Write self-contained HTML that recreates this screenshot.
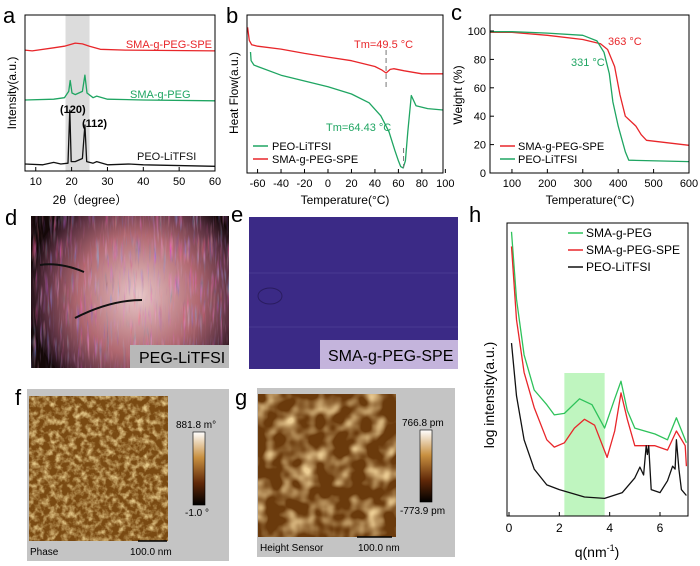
<!DOCTYPE html>
<html><head><meta charset="utf-8">
<style>
body{margin:0;background:#fff;}
svg{display:block;font-family:"Liberation Sans",Arial,sans-serif;}
</style></head>
<body>
<svg id="fig" width="700" height="566" viewBox="0 0 700 566" xmlns="http://www.w3.org/2000/svg">
<defs>
<clipPath id="clipD"><rect x="31" y="216" width="198" height="152"/></clipPath>
<filter id="noiseF" x="0" y="0" width="100%" height="100%">
<feTurbulence type="fractalNoise" baseFrequency="0.16" numOctaves="3" seed="3"/>
<feColorMatrix type="matrix" values="0 0 0 0 0.78  0 0 0 0 0.58  0 0 0 0 0.25  0 0 0 2.2 -0.85"/>
</filter>
<filter id="noiseG" x="0" y="0" width="100%" height="100%">
<feTurbulence type="fractalNoise" baseFrequency="0.06" numOctaves="2" seed="8"/>
<feColorMatrix type="matrix" values="0 0 0 0 0.85  0 0 0 0 0.62  0 0 0 0 0.3  0 0 0 2.4 -1.0"/>
</filter>
<filter id="fibre" x="0" y="0" width="100%" height="100%">
<feTurbulence type="turbulence" baseFrequency="0.3 0.03" numOctaves="2" seed="5"/>
<feColorMatrix type="matrix" values="1.6 0 0 0 0.1  0 0.7 0 0 0.05  0 0.6 1.2 0 0.05  0 0 0 1.6 -0.3"/>
</filter>
<radialGradient id="sph" cx="0.5" cy="0.5" r="0.5">
<stop offset="0" stop-color="#e8c8c8"/><stop offset="0.55" stop-color="#b06870"/><stop offset="0.85" stop-color="#5a3040"/><stop offset="1" stop-color="#1a0c10"/>
</radialGradient>
<linearGradient id="cbar" x1="0" y1="0" x2="0" y2="1">
<stop offset="0" stop-color="#ffffff"/><stop offset="0.35" stop-color="#c89040"/><stop offset="0.7" stop-color="#602808"/><stop offset="1" stop-color="#000"/>
</linearGradient>
</defs>

<text x="3" y="23" font-size="22">a</text>
<text x="226" y="23" font-size="22">b</text>
<text x="451" y="20" font-size="22">c</text>
<text x="5" y="225" font-size="22">d</text>
<text x="231" y="222" font-size="22">e</text>
<text x="15" y="405" font-size="22">f</text>
<text x="235" y="405" font-size="22">g</text>
<text x="469" y="222" font-size="22">h</text>

<g>
<g clip-path="url(#clipD)">
<rect x="31" y="216" width="198" height="152" fill="#140808"/>
<circle cx="138" cy="295" r="110" fill="url(#sph)"/>
<circle cx="138" cy="295" r="108" filter="url(#fibre)" opacity="0.65"/>
<path d="M75,318 Q110,300 142,300" stroke="#111" stroke-width="2" fill="none"/>
<path d="M40,265 Q60,262 84,272" stroke="#111" stroke-width="2" fill="none"/>
</g>
<rect x="130" y="345" width="99" height="23" fill="#b8b8b8"/>
<text x="139" y="363" font-size="16">PEG-LiTFSI</text>
</g>
<g>
<rect x="249" y="217" width="209" height="152" fill="#3b2a86"/>
<line x1="249" y1="273" x2="458" y2="273" stroke="#5a4aa0" stroke-width="0.6"/>
<line x1="249" y1="327" x2="458" y2="327" stroke="#5a4aa0" stroke-width="0.6"/>
<ellipse cx="270" cy="296" rx="12" ry="8" fill="none" stroke="#2a1c60" stroke-width="1"/>
<rect x="320" y="340" width="138" height="29" fill="#c4b4dc"/>
<text x="328" y="361" font-size="16">SMA-g-PEG-SPE</text>
</g>
<g>
<rect x="27" y="389" width="202" height="172" fill="#c4c4c4"/>
<rect x="29" y="396" width="139" height="145" fill="#7a4a12"/>
<rect x="29" y="396" width="139" height="145" filter="url(#noiseF)"/>
<rect x="193" y="432" width="12" height="73" fill="url(#cbar)" stroke="#000" stroke-width="0.6"/>
<text x="176" y="428" font-size="10">881.8 m°</text>
<text x="185" y="516" font-size="10">-1.0 °</text>
<line x1="138" y1="541" x2="167" y2="541" stroke="#000" stroke-width="1.5"/>
<text x="30" y="555" font-size="10">Phase</text>
<text x="130" y="555" font-size="10">100.0 nm</text>
</g>
<g>
<rect x="257" y="388" width="198" height="169" fill="#c4c4c4"/>
<rect x="258" y="394" width="138" height="143" fill="#6a3a0c"/>
<rect x="258" y="394" width="138" height="143" filter="url(#noiseG)"/>
<rect x="420" y="430" width="12" height="72" fill="url(#cbar)" stroke="#000" stroke-width="0.6"/>
<text x="402" y="426" font-size="10">766.8 pm</text>
<text x="400" y="514" font-size="10">-773.9 pm</text>
<line x1="357" y1="537" x2="392" y2="537" stroke="#000" stroke-width="1.5"/>
<text x="260" y="551" font-size="10">Height Sensor</text>
<text x="358" y="551" font-size="10">100.0 nm</text>
</g>
<g id="charts"></g>
</svg>
<script>
// ---------- Panel a data (XRD) ----------
const aX_red = [7,9,15,18,21,23,25,28,35,60];
const aY_red = [77.5,77,79,80,82,81.5,80,78,77.5,77];
const aX_green = [7,15,18,19.2,19.6,20.1,21,22,23,23.7,24.3,26,27,30,40,60];
const aY_green = [45.5,46,47,51,58,50,49,50,51,61.5,50,47,48,46,45.5,45];
const aX_black = [7,12,15,17,19,19.5,19.9,21,23,23.7,24.2,26,27,30,36,40,60];
const aY_black = [4.5,4,5.5,4.5,5,39,6,6,8,29.5,6,5,6,4,4.5,4,3];
const aTicks = [10,20,30,40,50,60];
// ---------- Panel b data (DSC) ----------
const bX_red = [-68.5,-67,-65,-60,-40,-20,0,20,40,46,49.5,53,56,65,80,98];
const bY_red = [97,88,85,84,82,79,76.5,74,70,67.5,65.5,68,68.5,67,65,65];
const bX_green = [-66,-65.5,-63,-60,-40,-20,0,20,35,45,52,57,60,62,64,66,68,71,75,85,98];
const bY_green = [80,74,71,70,64,60,56,51,45,36,25,12,5,1,0,5,25,50,43,41,40];
const bTicks = [-60,-40,-20,0,20,40,60,80,100];
// ---------- Panel c data (TGA) ----------
const cX_red = [38,100,200,300,350,370,390,405,420,450,465,480,600];
const cY_red = [99,99,97,94,91,87,75,55,40,33,27,23,19.5];
const cX_green = [38,100,200,300,340,360,375,385,400,420,430,600];
const cY_green = [99.5,99.5,98.5,97,93,85,70,50,33,15,9,8];
const cTicksX = [100,200,300,400,500,600];
const cTicksY = [0,20,40,60,80,100];
// ---------- Panel h data (SAXS) ----------
const hX_green = [0.1,0.3,0.6,1,1.5,1.8,2.2,2.8,3.3,3.8,4.2,4.45,4.7,5,5.8,6.3,6.65,7.05];
const hY_green = [97,74,55,43,38,34.5,35,40,38,30,40,46,36,30,28,26,33.5,25];
const hX_red = [0.1,0.3,0.6,1,1.5,1.8,2.2,2.6,3,3.4,3.9,4.2,4.45,4.7,5,5.8,6.3,6.65,7,7.05];
const hY_red = [92,67,49,37,26,23.5,25,30,33,31,20,29,42,33,24,24,22.5,29,24,17];
const hX_black = [0.1,0.3,0.6,1,1.5,2,3,3.8,4.5,5,5.2,5.35,5.45,5.5,5.55,5.65,6,6.3,6.5,6.6,6.65,6.75,6.85,7.05];
const hY_black = [59,41,26,16,10.6,9,6.5,6,8,13,16.7,14,24,21,24,9,8,12,17,16,26,16,9,7];
const hTicks = [0,2,4,6];

const NS = "http://www.w3.org/2000/svg";
const root = document.getElementById('charts');
const RED = "#e8262a", GREEN = "#1fa562", BLACK = "#111";
function el(tag, attrs, parent){ const e=document.createElementNS(NS,tag); for(const k in attrs) e.setAttribute(k,attrs[k]); (parent||root).appendChild(e); return e; }
function scale(d0,d1,r0,r1){ return v => r0 + (v-d0)/(d1-d0)*(r1-r0); }
function line(xs,ys,sx,sy,color,parent){ let d=''; xs.forEach((x,i)=>{ d+=(i?'L':'M')+sx(x).toFixed(1)+','+sy(ys[i]).toFixed(1); }); return el('path',{d:d,fill:'none',stroke:color,'stroke-width':1.3,'stroke-linejoin':'round'},parent); }
function txt(x,y,s,attrs,parent){ const t=el('text',Object.assign({x:x,y:y,'font-size':11},attrs||{}),parent); t.textContent=s; return t; }

{
 const g=el('g',{});  
 const sx=scale(7,60,25,215), sy=scale(0,100,171,15);
 const sh=el('rect',{x:sx(18.3),y:15,width:sx(25)-sx(18.3),height:156,fill:'#dcdcdc'},g);
  
 let p=line(aX_red,aY_red,sx,sy,RED,g);  
 p=line(aX_green,aY_green,sx,sy,GREEN,g);  
 p=line(aX_black,aY_black,sx,sy,BLACK,g);  
 el('rect',{x:25,y:15,width:190,height:156,fill:'none',stroke:'#000','stroke-width':1},g);
 aTicks.forEach(t=>{ el('line',{x1:sx(t),x2:sx(t),y1:171,y2:167,stroke:'#000'},g);
  const l=txt(sx(t),185,String(t),{'text-anchor':'middle'},g);   });
 let t=txt(212,48,'SMA-g-PEG-SPE',{'text-anchor':'end',fill:RED});  
 t=txt(130,98,'SMA-g-PEG',{fill:GREEN});  
 t=txt(137,160,'PEO-LiTFSI',{fill:BLACK});  
 t=txt(60,113,'(120)',{'font-weight':'bold'});  
 t=txt(82,127,'(112)',{'font-weight':'bold'});  
 t=txt(90,204,'2θ（degree）',{'text-anchor':'middle','font-size':12});  
 t=txt(0,0,'Intensity(a.u.)',{'text-anchor':'middle','font-size':12,transform:'translate(16,93) rotate(-90)'});  
}
{
 const g=el('g',{});  
 const sx=scale(-69,98,247,443), sy=scale(0,100,168,23);
 let p=line(bX_red,bY_red,sx,sy,RED,g);  
 p=line(bX_green,bY_green,sx,sy,GREEN,g);  
 el('line',{x1:sx(49.5),x2:sx(49.5),y1:50,y2:88,stroke:'#777','stroke-dasharray':'5,3'},g);
 el('line',{x1:sx(64.4),x2:sx(64.4),y1:148,y2:168,stroke:'#777','stroke-dasharray':'5,3'},g);
 el('rect',{x:247,y:15,width:196,height:158,fill:'none',stroke:'#000'},g);
 bTicks.forEach(t=>{ el('line',{x1:sx(t),x2:sx(t),y1:173,y2:169,stroke:'#000'},g);
  const l=txt(sx(t),187,String(t),{'text-anchor':'middle'},g);   });
 let t=txt(354,48,'Tm=49.5 °C',{fill:RED});  
 t=txt(326,131,'Tm=64.43 °C',{fill:GREEN});  
 el('line',{x1:253,x2:268,y1:146,y2:146,stroke:GREEN,'stroke-width':1.5},g);
 t=txt(272,150,'PEO-LiTFSI');  
 el('line',{x1:253,x2:268,y1:159,y2:159,stroke:RED,'stroke-width':1.5},g);
 t=txt(272,163,'SMA-g-PEG-SPE');  
 t=txt(345,204,'Temperature(°C)',{'text-anchor':'middle','font-size':12});  
 t=txt(0,0,'Heat Flow(a.u.)',{'text-anchor':'middle','font-size':12,transform:'translate(238,93) rotate(-90)'});  
}
{
 const g=el('g',{});  
 const sx=scale(38,600,490,689), sy=scale(0,100,173,31);
 let p=line(cX_red,cY_red,sx,sy,RED,g);  
 p=line(cX_green,cY_green,sx,sy,GREEN,g);  
 el('rect',{x:490,y:15,width:199,height:158,fill:'none',stroke:'#000'},g);
 cTicksX.forEach(t=>{ el('line',{x1:sx(t),x2:sx(t),y1:173,y2:169,stroke:'#000'},g);
  const l=txt(sx(t),187,String(t),{'text-anchor':'middle'},g);   });
 cTicksY.forEach(t=>{ el('line',{x1:490,x2:494,y1:sy(t),y2:sy(t),stroke:'#000'},g);
  const l=txt(486,sy(t)+4,String(t),{'text-anchor':'end'},g);   });
 let t=txt(608,45,'363 °C',{fill:RED});  
 t=txt(571,66,'331 °C',{fill:GREEN});  
 el('line',{x1:500,x2:515,y1:146,y2:146,stroke:RED,'stroke-width':1.5},g);
 t=txt(518,150,'SMA-g-PEG-SPE');  
 el('line',{x1:500,x2:515,y1:159,y2:159,stroke:GREEN,'stroke-width':1.5},g);
 t=txt(518,163,'PEO-LiTFSI');  
 t=txt(590,204,'Temperature(°C)',{'text-anchor':'middle','font-size':12});  
 t=txt(0,0,'Weight (%)',{'text-anchor':'middle','font-size':12,transform:'translate(462,95) rotate(-90)'});  
}
{
 const g=el('g',{});  
 const sx=scale(0,6,509,660), sy=scale(0,100,516,223);
 const band=el('rect',{x:sx(2.2),y:373,width:sx(3.8)-sx(2.2),height:143,fill:'#bff5bf'},g);
  
 let p=line(hX_green,hY_green,sx,sy,'#2ec25a',g);  
 p=line(hX_red,hY_red,sx,sy,RED,g);  
 p=line(hX_black,hY_black,sx,sy,BLACK,g);  
 el('rect',{x:507,y:223,width:181,height:293,fill:'none',stroke:'#000'},g);
 hTicks.forEach(t=>{ el('line',{x1:sx(t),x2:sx(t),y1:516,y2:512,stroke:'#000'},g);
  const l=txt(sx(t),532,String(t),{'text-anchor':'middle','font-size':12},g);   });
 const leg=[['SMA-g-PEG','#2ec25a',233],['SMA-g-PEG-SPE',RED,250],['PEO-LiTFSI',BLACK,267]];
 leg.forEach(L=>{ el('line',{x1:568,x2:583,y1:L[2],y2:L[2],stroke:L[1],'stroke-width':1.5},g);
  const l=txt(586,L[2]+4,L[0],{'font-size':12},g);   });
 let t=el('text',{x:597,y:557,'text-anchor':'middle','font-size':14},g);
 t.innerHTML='q(nm<tspan dy="-6" font-size="9">-1</tspan><tspan dy="6">)</tspan>';
  
 t=txt(0,0,'log intensity(a.u.)',{'text-anchor':'middle','font-size':14,transform:'translate(494,395) rotate(-90)'});  
}
</script>
</body></html>
